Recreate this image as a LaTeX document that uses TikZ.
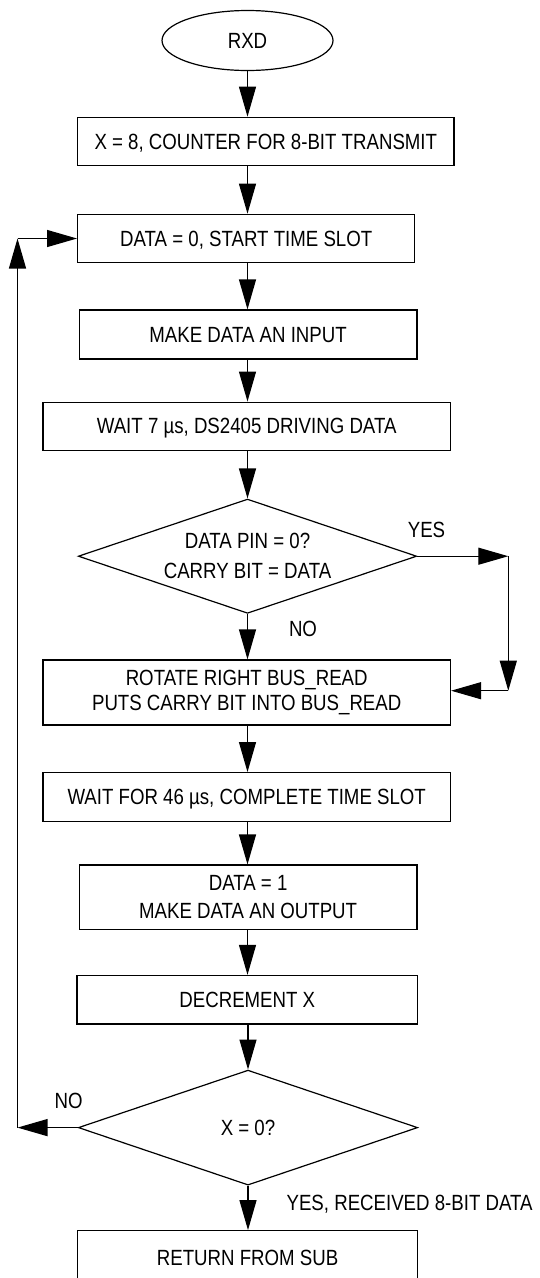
\documentclass[tikz,border=0pt]{standalone}
\usepackage{fontspec}
\setmainfont{Liberation Sans}[FakeStretch=0.848]
\usetikzlibrary{shapes.geometric,arrows.meta}
\begin{document}
\begin{tikzpicture}[x=1pt,y=-1pt,line width=1.2pt,
  every node/.style={font=\fontsize{22pt}{25.5pt}\selectfont},
  ell/.style={draw,ellipse,inner sep=0pt,minimum width=171pt,minimum height=60pt,text height=15pt,text depth=0pt},
  proc/.style={draw,rectangle,inner sep=0pt,minimum height=48.5pt,text height=15pt,text depth=0pt},
  proctwo/.style={draw,rectangle,inner sep=0pt,align=center},
  dec/.style={draw,diamond,shape aspect=2.97,inner sep=0pt,align=center},
  arr/.style={-{Triangle[length=30pt,width=17pt]}},
  lbl/.style={anchor=base,inner sep=0pt}]
\useasboundingbox (0,0) rectangle (539,1278);

\node[ell] (start) at (247.5,40.5) {RXD};
\node[proc,minimum width=376.4pt] (b1) at (265.8,141.5) {X = 8, COUNTER FOR 8-BIT TRANSMIT};
\node[proc,minimum width=337.2pt] (b2) at (246.2,238.5) {DATA = 0, START TIME SLOT};
\node[proc,minimum width=337.6pt,minimum height=49pt] (b3) at (248.1,334.5) {MAKE DATA AN INPUT};
\node[proc,minimum width=407.6pt] (b4) at (246.7,426.4) {WAIT 7 µs, DS2405 DRIVING DATA};
\node[dec,minimum width=338.4pt,minimum height=114.3pt] (d1) at (247.5,556.2) {DATA PIN = 0?\\[4.5pt]CARRY BIT = DATA};
\node[proctwo,minimum width=407.6pt,minimum height=65pt] (b5) at (246.7,692.5) {ROTATE RIGHT BUS\_READ\\PUTS CARRY BIT INTO BUS\_READ};
\node[proc,minimum width=407.6pt] (b6) at (246.7,796.9) {WAIT FOR 46 µs, COMPLETE TIME SLOT};
\node[proctwo,minimum width=337.6pt,minimum height=64.3pt] (b7) at (248.1,897.2) {DATA = 1\\[2.5pt]MAKE DATA AN OUTPUT};
\node[proc,minimum width=340.7pt] (b8) at (247.3,999.7) {DECREMENT X};
\node[dec,minimum width=339.3pt,minimum height=115pt] (d2) at (248,1127.6) {X = 0?};
\node[proc,minimum width=340pt,minimum height=54pt] (b9) at (247.6,1257.7) {RETURN FROM SUB};

% main column
\draw[arr] (start.south) -- (start.south |- b1.north);
\draw[arr] (b1.south -| start.south) -- (b2.north -| start.south);
\draw[arr] (b2.south -| start.south) -- (b3.north -| start.south);
\draw[arr] (b3.south -| start.south) -- (b4.north -| start.south);
\draw[arr] (b4.south -| d1.north) -- (d1.north);
\draw[arr] (d1.south) -- (d1.south |- b5.north);
\draw[arr] (b5.south -| d1.south) -- (b6.north -| d1.south);
\draw[arr] (b6.south -| d1.south) -- (b7.north -| d1.south);
\draw[arr] (b7.south -| d1.south) -- (b8.north -| d1.south);
\draw[arr] (b8.south -| d2.north) -- (d2.north);
\draw[arr] (d2.south) -- (d2.south |- b9.north);

% YES branch of first decision
\coordinate (y1) at (508.3,556.2);
\coordinate (y2) at (508.3,690.7);
\draw[arr] (d1.east) -- (y1);
\draw[arr] (y1) -- (y2);
\draw[arr] (y2) -- (y2 -| b5.east);

% NO loop of second decision
\coordinate (n1) at (17.5,1127.6);
\coordinate (n2) at (17.5,238.5);
\draw[arr] (d2.west) -- (n1);
\draw[arr] (n1) -- (n2);
\draw[arr] (n2) -- (b2.west);

% labels
\node[lbl] (yes1) at (426.5,537.5) {YES};
\node[lbl] (no1) at (303,636.5) {NO};
\node[lbl] (no2) at (68.7,1108) {NO};
\node[lbl,anchor=base west] (yes2) at (286,1210.5) {YES, RECEIVED 8-BIT DATA};
\end{tikzpicture}
\end{document}
